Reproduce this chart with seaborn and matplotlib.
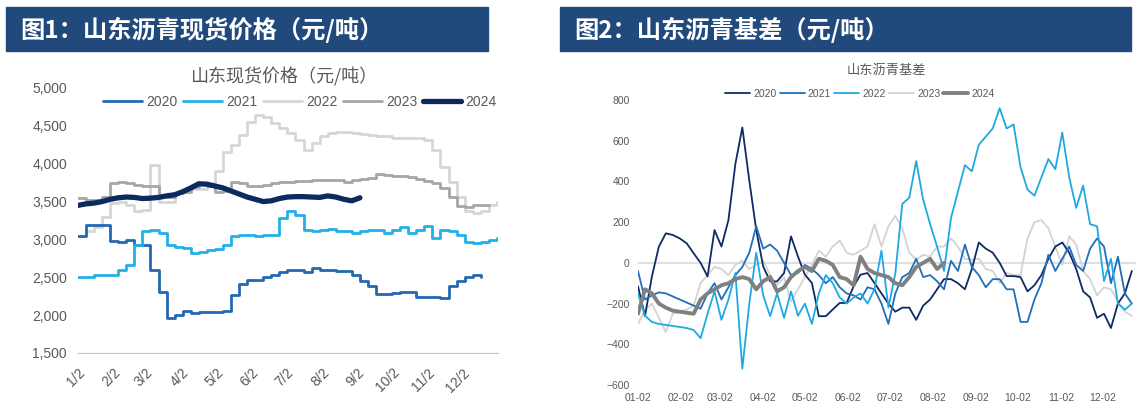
import numpy as np
import pandas as pd
import matplotlib
matplotlib.use("Agg")
import matplotlib.pyplot as plt
from matplotlib.patches import Rectangle
import seaborn as sns

nan = np.nan
years = ["2020", "2021", "2022", "2023", "2024"]

# 图1: Shandong spot price, one reading per week from 1/2
price_days = np.arange(0, 365, 7)
price_2020 = [3040, 3190, 3190, 3190, 2980, 2970, 2990, 2930, 2920, 2600,
              2310, 1960, 2005, 2060, 2030, 2040, 2040, 2045, 2050, 2270,
              2410, 2470, 2470, 2510, 2530, 2575, 2600, 2600, 2570, 2620,
              2600, 2590, 2580, 2580, 2525, 2445, 2380, 2280, 2280, 2290,
              2310, 2300, 2245, 2240, 2240, 2225, 2390, 2445, 2510, 2530,
              2510, nan, nan]
price_2021 = [2510, 2510, 2525, 2530, 2530, 2600, 2665, 2930, 3105, 3125,
              3080, 2930, 2905, 2890, 2820, 2840, 2860, 2875, 2930, 3040,
              3060, 3060, 3050, 3060, 3060, 3280, 3370, 3320, 3125, 3105,
              3125, 3135, 3110, 3105, 3080, 3105, 3125, 3125, 3080, 3125,
              3170, 3080, 3125, 3180, 3015, 3125, 3105, 3060, 2970, 2950,
              2960, 2990, 3020]
price_2022 = [3040, 3105, 3170, 3300, 3480, 3500, 3455, 3370, 3390, 3985,
              3500, 3500, 3610, 3655, 3670, 3670, 3700, 3900, 4160, 4250,
              4380, 4555, 4645, 4620, 4535, 4470, 4400, 4315, 4180, 4270,
              4360, 4400, 4425, 4415, 4400, 4390, 4380, 4360, 4360, 4345,
              4345, 4335, 4335, 4315, 4180, 3960, 3765, 3565, 3370, 3350,
              3380, 3450, 3500]
price_2023 = [3545, 3520, 3525, 3560, 3745, 3765, 3750, 3720, 3710, 3710,
              3590, 3560, 3610, 3630, 3690, 3730, 3700, 3620, 3640, 3760,
              3750, 3700, 3710, 3720, 3740, 3765, 3760, 3770, 3775, 3780,
              3785, 3790, 3780, 3765, 3780, 3800, 3815, 3860, 3855, 3840,
              3835, 3830, 3800, 3770, 3750, 3680, 3560, 3440, 3430, 3450,
              3460, 3460, nan]
price_2024 = [3450, 3470, 3480, 3500, 3530, 3550, 3560, 3555, 3540, 3545,
              3555, 3575, 3590, 3630, 3680, 3735, 3730, 3705, 3680, 3640,
              3600, 3560, 3530, 3500, 3510, 3540, 3560, 3565, 3565, 3560,
              3555, 3575, 3560, 3530, 3510, 3550] + [nan] * 17

# 图2: Shandong basis, one reading every 5 days from 01-02
basis_days = np.arange(0, 360, 5)
basis_2020 = [-115, -262, -67, 80, 145, 137, 120, 96, 47, 0, -67, 161, 80, 210, 486, 665, 405, 161,
              -18, -91, -91, -50, 130, 31, -58, -99, -262, -262, -229, -197, -197, -115, -58, -50, -99, -150,
              -200, -240, -220, -220, -280, -210, -180, -130, -80, -80, -100, -130, -30, 100, 70, 50, 0, -65,
              -65, -70, -140, -110, -60, 20, 80, 100, 50, -30, -140, -170, -270, -250, -320, -200, -150, -40]
basis_2021 = [-40, -180, -160, -145, -150, -165, -180, -195, -210, -225, -150, -100, -180, -120, -60, -20, 50, 180,
              70, 90, 60, 0, -60, -50, -10, -30, -60, -100, -70, -120, -150, -160, -180, -120, -130, -200,
              -300, -150, -70, -50, 20, -70, -60, -90, -130, 10, -40, 90, -20, -60, -120, -80, -80, -130,
              -130, -290, -290, -180, -100, 40, -40, 20, 80, -10, -40, 70, 120, 80, -100, 30, -150, -200]
basis_2022 = [-150, -260, -290, -300, -305, -310, -315, -320, -330, -370, -250, -140, -280, -180, -50, -520, -200, 50,
              -160, -262, -150, -270, -140, -260, -200, -300, -150, -60, -100, -170, -200, -170, -150, -200, -130, 60,
              -220, -50, 290, 320, 500, 310, 190, 80, -40, 220, 350, 480, 450, 580, 620, 660, 760, 660,
              680, 470, 360, 330, 420, 510, 460, 640, 420, 270, 380, 190, 180, -90, 20, -200, -230, -200]
basis_2023 = [-300, -230, -200, -270, -340, -250, -240, -230, -210, -100, -60, -20, -30, -60, -10, 10, -30, -10,
              10, -60, -110, -70, -190, -130, -70, -10, 60, 30, 80, 110, 50, 40, 60, 80, 190, 80,
              180, 230, 170, 50, 15, 40, 30, 80, 80, 120, 80, 20, 15, 20, -30, -40, -100, -50,
              -60, -60, 120, 200, 210, 170, 80, -10, 130, 90, -40, -80, -160, -120, -130, -190, -240, -260]
basis_2024 = [-250, -130, -150, -200, -220, -235, -240, -245, -250, -180, -150, -130, -110, -100, -80, -70, -80, -130,
              -90, -70, -140, -120, -70, -40, -20, -40, 20, 10, -10, -70, -80, -110, 30, -30, -50, -60,
              -70, -100, -110, -70, -20, 0, 20, -30, 0] + [nan] * 27

month_days = [0, 31, 59, 90, 120, 151, 181, 212, 243, 273, 304, 334]
left_month_labels = ["1/2", "2/2", "3/2", "4/2", "5/2", "6/2", "7/2", "8/2", "9/2", "10/2", "11/2", "12/2"]
right_month_labels = ["01-02", "02-02", "03-02", "04-02", "05-02", "06-02", "07-02", "08-02",
                      "09-02", "10-02", "11-02", "12-02"]

prices = pd.DataFrame({"day": price_days, "2020": price_2020, "2021": price_2021,
                       "2022": price_2022, "2023": price_2023, "2024": price_2024})
basis = pd.DataFrame({"day": basis_days, "2020": basis_2020, "2021": basis_2021,
                      "2022": basis_2022, "2023": basis_2023, "2024": basis_2024})

sns.set_style("white")
plt.rcParams["font.family"] = ["Liberation Sans", "Noto Sans CJK SC"]

W, H = 1137, 416
fig = plt.figure(figsize=(W / 100, H / 100), dpi=100)


def box(x0, y0, x1, y1):
    # pixel box (top-left origin) -> figure fraction rect
    return [x0 / W, 1 - y1 / H, (x1 - x0) / W, (y1 - y0) / H]


# title banners
banner = "#21497c"
for (x0, x1, text) in [(6, 488, "图1：山东沥青现货价格（元/吨）"),
                       (560, 1131, "图2：山东沥青基差（元/吨）")]:
    r = box(x0, 7, x1, 51)
    fig.patches.append(Rectangle((r[0], r[1]), r[2], r[3], transform=fig.transFigure,
                                 color=banner, zorder=0))
    fig.text((x0 + 14) / W, 1 - 30 / H, text, color="white", fontsize=17.5,
             fontweight="bold", va="center", ha="left",
             family=["Noto Sans CJK SC", "DejaVu Sans"])

grey_txt = "#595959"

# ---- left: spot price
ax1 = fig.add_axes(box(78, 88, 498, 353))
left_style = {"2020": ("#2468b2", 2.0), "2021": ("#22b0e8", 2.0), "2022": ("#d6d6d6", 2.0),
              "2023": ("#a6a6a6", 2.0), "2024": ("#0c2a5e", 3.8)}
for yr in ["2022", "2023", "2020", "2021", "2024"]:
    c, lw = left_style[yr]
    sub = prices[["day", yr]].dropna()
    sns.lineplot(x=sub["day"], y=sub[yr], ax=ax1, color=c, lw=lw, label=yr,
                 drawstyle="default" if yr == "2024" else "steps-post")
ax1.set_xlim(0, 365)
ax1.set_ylim(1500, 5000)
ax1.set_yticks([1500, 2000, 2500, 3000, 3500, 4000, 4500, 5000])
ax1.set_yticklabels([f"{v:,}" for v in ax1.get_yticks().astype(int)])
ax1.set_xticks(month_days)
ax1.set_xticklabels(left_month_labels, rotation=45, ha="right", rotation_mode="anchor")
ax1.set_xlabel("")
ax1.set_ylabel("")
for s in ["top", "right", "left"]:
    ax1.spines[s].set_visible(False)
ax1.spines["bottom"].set_color("#bfbfbf")
ax1.tick_params(axis="x", length=5, color="#bfbfbf", labelsize=10, labelcolor=grey_txt, pad=4)
ax1.tick_params(axis="y", length=0, labelsize=10, labelcolor=grey_txt, pad=8)
h, l = ax1.get_legend_handles_labels()
order = [l.index(y) for y in years]
ax1.legend([h[i] for i in order], years, loc="center", bbox_to_anchor=(300 / W, 1 - 102 / H),
           bbox_transform=fig.transFigure, ncol=5, frameon=False, fontsize=10,
           handlelength=2.8, handletextpad=0.3, columnspacing=0.4, labelcolor=grey_txt)
fig.text(284 / W, 1 - 77 / H, "山东现货价格（元/吨）", ha="center", va="center",
         fontsize=13, color=grey_txt, family=["Noto Sans CJK SC", "DejaVu Sans"])

# ---- right: basis
ax2 = fig.add_axes(box(638, 100, 1136, 385))
right_style = {"2020": ("#0f2a66", 1.3), "2021": ("#1f6fba", 1.3), "2022": ("#1fa9e2", 1.3),
               "2023": ("#d3d3d3", 1.3), "2024": ("#808080", 2.8)}
ax2.axhline(0, color="#d9d9d9", lw=1.2, zorder=0)
for yr in ["2023", "2020", "2021", "2022", "2024"]:
    c, lw = right_style[yr]
    sub = basis[["day", yr]].dropna()
    sns.lineplot(x=sub["day"], y=sub[yr], ax=ax2, color=c, lw=lw, label=yr)
ax2.set_xlim(0, 358)
ax2.set_ylim(-600, 800)
ax2.set_yticks(range(-600, 801, 200))
ax2.set_xticks(month_days)
ax2.set_xticklabels(right_month_labels)
ax2.set_xlabel("")
ax2.set_ylabel("")
for s in ax2.spines.values():
    s.set_visible(False)
ax2.tick_params(axis="both", length=0, labelsize=7.5, labelcolor=grey_txt)
ax2.tick_params(axis="y", pad=6)
ax2.tick_params(axis="x", pad=6)
h, l = ax2.get_legend_handles_labels()
order = [l.index(y) for y in years]
ax2.legend([h[i] for i in order], years, loc="center", bbox_to_anchor=(860 / W, 1 - 94 / H),
           bbox_transform=fig.transFigure, ncol=5, frameon=False, fontsize=7.5,
           handlelength=2.4, handletextpad=0.3, columnspacing=0.3, labelcolor=grey_txt)
fig.text(886 / W, 1 - 70 / H, "山东沥青基差", ha="center", va="center",
         fontsize=9.5, color=grey_txt, family=["Noto Sans CJK SC", "DejaVu Sans"])

fig.savefig("out.png", dpi=100)
